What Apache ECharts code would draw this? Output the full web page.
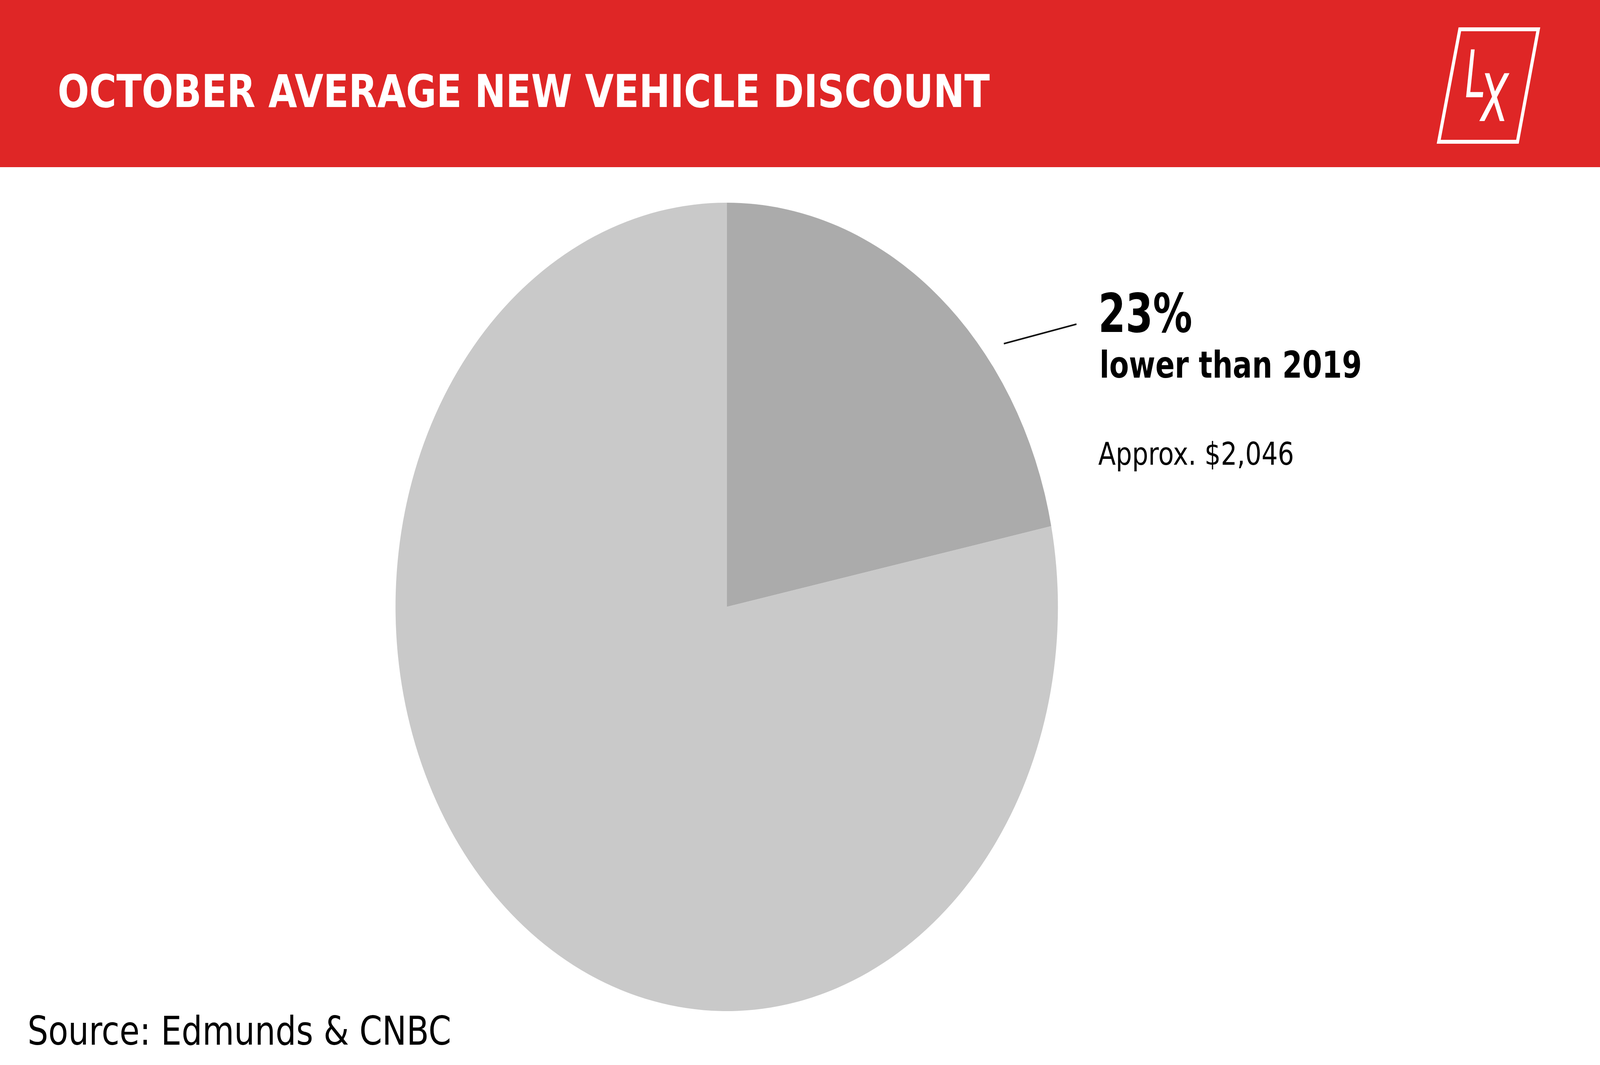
<!DOCTYPE html>
<html>
<head>
<meta charset="utf-8">
<script src="https://cdn.jsdelivr.net/npm/echarts@6/dist/echarts.min.js"></script>
<style>
  html, body { margin: 0; padding: 0; background: #fff; overflow: hidden; }
  #container { width: 5000px; height: 2727px; transform-origin: 0 0; }
</style>
</head>
<body>
<div id="container"></div>
<script>
var sliceNames = ['Lower than 2019', 'Rest'];
var sliceValues = [21.8, 78.2];
var sliceColors = ['#ababab', '#c9c9c9'];

var titleText = 'OCTOBER AVERAGE NEW VEHICLE DISCOUNT';
var calloutLines = ['23%', 'lower than 2019', 'Approx. $2,046'];
var sourceText = 'Source: Edmunds & CNBC';

var RED = '#df2626';
var FONT = '"DejaVu Sans", sans-serif';

var dom = document.getElementById('container');
// the window may be narrower than 5000px, so squeeze the 5000x2727 layout to fit it
var fitX = Math.min(1, window.innerWidth / 5000);
var fitY = Math.min(1, window.innerHeight / 2727);
dom.style.transform = 'scale(' + fitX + ',' + fitY + ')';

var myChart = echarts.init(dom, null, { renderer: 'svg' });

function txt(text, x, y, size, weight, color, opts) {
    opts = opts || {};
    return {
        type: 'text', silent: true, x: x, y: y, scaleX: opts.scaleX || 1,
        style: {
            text: text, x: 0, y: 0,
            fontSize: size, fontWeight: weight, fontStyle: opts.fontStyle || 'normal',
            fontFamily: opts.fontFamily || FONT, fill: color,
            align: 'left', textAlign: 'left',
            verticalAlign: 'middle', textVerticalAlign: 'middle'
        }
    };
}

var option = {
    backgroundColor: '#ffffff',
    animation: false,
    graphic: [
        // red header band
        { type: 'rect', silent: true, shape: { x: 0, y: 0, width: 5000, height: 428 }, style: { fill: RED } },
        txt(titleText, 180, 234, 116, 'bold', '#ffffff'),
        // logo
        {
            type: 'polygon', silent: true,
            shape: { points: [[4562, 75], [4807, 75], [4742, 363], [4496, 363]] },
            style: { fill: 'none', stroke: '#ffffff', lineWidth: 10 }
        },
        txt('L', 4578, 190, 172, 'normal', '#fff', { fontStyle: 'italic', fontFamily: 'Roboto', scaleX: 0.72 }),
        txt('X', 4626, 251, 172, 'normal', '#fff', { fontStyle: 'italic', fontFamily: 'Roboto', scaleX: 0.82 }),
        // callout
        {
            type: 'line', silent: true,
            shape: { x1: 3137, y1: 880, x2: 3364, y2: 830 },
            style: { stroke: '#111', lineWidth: 4 }
        },
        txt(calloutLines[0], 3432, 802, 138, 'bold', '#000', { scaleX: 0.89 }),
        txt(calloutLines[1], 3436, 935, 94, 'bold', '#000', { scaleX: 0.95 }),
        txt(calloutLines[2], 3432, 1162, 80, 'normal', '#000'),
        // source
        txt(sourceText, 86, 2639, 102, 'normal', '#000')
    ],
    series: [
        {
            name: 'Discount',
            type: 'pie',
            center: [2271, 1554],
            radius: 1035,
            startAngle: 90,
            clockwise: true,
            silent: true,
            label: { show: false },
            labelLine: { show: false },
            itemStyle: { borderWidth: 0 },
            data: sliceNames.map(function (n, i) {
                return { name: n, value: sliceValues[i], itemStyle: { color: sliceColors[i] } };
            })
        }
    ]
};
myChart.setOption(option);
</script>
</body>
</html>
